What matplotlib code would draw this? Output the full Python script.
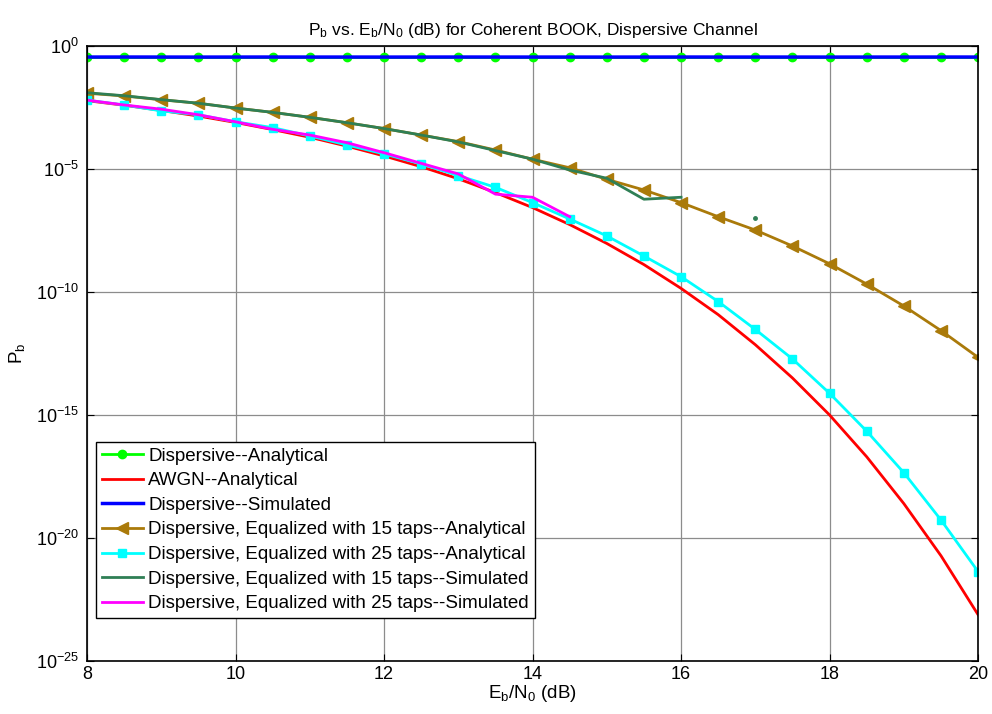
import numpy as np
import matplotlib
matplotlib.use("Agg")
import matplotlib.pyplot as plt

plt.rcParams['font.family'] = ['Liberation Sans', 'DejaVu Sans']
plt.rcParams['mathtext.default'] = 'regular'

# =========================
# DATA
# =========================
ebn0 = [8, 8.5, 9, 9.5, 10, 10.5, 11, 11.5, 12, 12.5, 13, 13.5, 14,
        14.5, 15, 15.5, 16, 16.5, 17, 17.5, 18, 18.5, 19, 19.5, 20]

disp_analytical = [0.355, 0.355, 0.355, 0.355, 0.355, 0.355, 0.355, 0.355, 0.355,
                   0.355, 0.355, 0.355, 0.355, 0.355, 0.355, 0.355, 0.355, 0.355,
                   0.355, 0.355, 0.355, 0.355, 0.355, 0.355, 0.355]
disp_simulated = [0.355, 0.356, 0.355, 0.354, 0.355, 0.356, 0.355, 0.355, 0.354,
                  0.355, 0.356, 0.355, 0.355, 0.355, 0.354, 0.355, 0.356, 0.355,
                  0.355, 0.355, 0.354, 0.355, 0.355, 0.356, 0.355]

awgn = [6.0e-3, 3.9e-3, 2.4e-3, 1.42e-3, 7.8e-4, 4.0e-4, 1.95e-4, 8.5e-5, 3.4e-5,
        1.24e-5, 4.0e-6, 1.1e-6, 2.7e-7, 5.5e-8, 9.4e-9, 1.3e-9, 1.4e-10, 1.2e-11,
        7.2e-13, 3.2e-14, 1.0e-15, 2.0e-17, 2.5e-19, 1.9e-21, 7.6e-24]

eq15_analytical = [1.2e-2, 9.3e-3, 6.5e-3, 4.7e-3, 3.0e-3, 2.0e-3, 1.26e-3, 7.6e-4,
                   4.4e-4, 2.4e-4, 1.3e-4, 5.9e-5, 2.5e-5, 1.12e-5, 3.8e-6, 1.4e-6,
                   4.3e-7, 1.15e-7, 3.3e-8, 7.4e-9, 1.4e-9, 2.1e-10, 2.7e-11,
                   2.7e-12, 2.2e-13]

eq25_analytical = [6.3e-3, 4.0e-3, 2.3e-3, 1.6e-3, 8.3e-4, 4.8e-4, 2.2e-4, 9.5e-5,
                   4.1e-5, 1.6e-5, 5.4e-6, 1.8e-6, 4.3e-7, 9.3e-8, 1.9e-8, 2.9e-9,
                   4.2e-10, 4.1e-11, 3.0e-12, 1.9e-13, 7.6e-15, 2.2e-16, 4.5e-18,
                   5.4e-20, 4.3e-22]

eq15_simulated = [1.26e-2, 9.5e-3, 6.6e-3, 4.7e-3, 3.0e-3, 2.0e-3, 1.26e-3, 7.6e-4,
                  4.4e-4, 2.4e-4, 1.26e-4, 5.6e-5, 2.5e-5, 9.1e-6, 4.2e-6, 5.9e-7,
                  7.1e-7, np.nan, 1.0e-7]

eq25_simulated = [6.3e-3, 4.0e-3, 2.7e-3, 1.6e-3, 8.3e-4, 4.1e-4, 2.4e-4, 1.17e-4,
                  4.6e-5, 1.7e-5, 6.3e-6, 9.5e-7, 7.1e-7, 1.15e-7]

# =========================
# PLOT
# =========================
fig = plt.figure(figsize=(9.92, 7.14), dpi=100)
ax = fig.add_axes([0.0877, 0.0742, 0.8983, 0.8614])

ax.semilogy(ebn0, disp_analytical, '-o', color='#00FF00', lw=2, ms=6,
            label='Dispersive--Analytical')
ax.semilogy(ebn0, awgn, '-', color='#FF0000', lw=2, label='AWGN--Analytical')
ax.semilogy(ebn0, disp_simulated, '-', color='#0000FF', lw=2.5,
            label='Dispersive--Simulated')
ax.semilogy(ebn0, eq15_analytical, '-<', color='#AA7A0A', lw=2, ms=8,
            label='Dispersive, Equalized with 15 taps--Analytical')
ax.semilogy(ebn0, eq25_analytical, '-s', color='#00FFFF', lw=2, ms=6,
            label='Dispersive, Equalized with 25 taps--Analytical')
ax.semilogy(ebn0[:len(eq15_simulated)], eq15_simulated, '-', color='#2F7F55', lw=2,
            label='Dispersive, Equalized with 15 taps--Simulated')
# lone point after the gap
ax.semilogy(ebn0[len(eq15_simulated) - 1:len(eq15_simulated)], eq15_simulated[-1:],
            '.', color='#2F7F55', ms=5)
ax.semilogy(ebn0[:len(eq25_simulated)], eq25_simulated, '-', color='#FF00FF', lw=2,
            label='Dispersive, Equalized with 25 taps--Simulated')

ax.set_xlim(8, 20)
ax.set_ylim(1e-25, 1e0)
ax.set_xticks([8, 10, 12, 14, 16, 18, 20])
ax.set_yticks([1e-25, 1e-20, 1e-15, 1e-10, 1e-5, 1e0])
ax.yaxis.set_minor_locator(matplotlib.ticker.NullLocator())
ax.tick_params(direction='in', top=True, right=True, labelsize=13, length=5)
ax.tick_params(axis='y', pad=6)
ax.grid(True, color='#8C8C8C', lw=0.9)
for s in ax.spines.values():
    s.set_linewidth(1.2)

ax.set_title('P$_b$ vs. E$_b$/N$_0$ (dB) for Coherent BOOK, Dispersive Channel',
             fontsize=12.5, pad=8)
ax.set_xlabel('E$_b$/N$_0$ (dB)', fontsize=13.5, labelpad=0)
ax.set_ylabel('P$_b$', fontsize=13.5, labelpad=6)

leg = ax.legend(loc='lower left', bbox_to_anchor=(0.01, 0.07), fontsize=13.5,
                fancybox=False, framealpha=1, edgecolor='black',
                handlelength=2.2, borderpad=0.3, labelspacing=0.4,
                handletextpad=0.3, borderaxespad=0)
leg.get_frame().set_linewidth(1.0)

fig.savefig('out.png', dpi=100)
